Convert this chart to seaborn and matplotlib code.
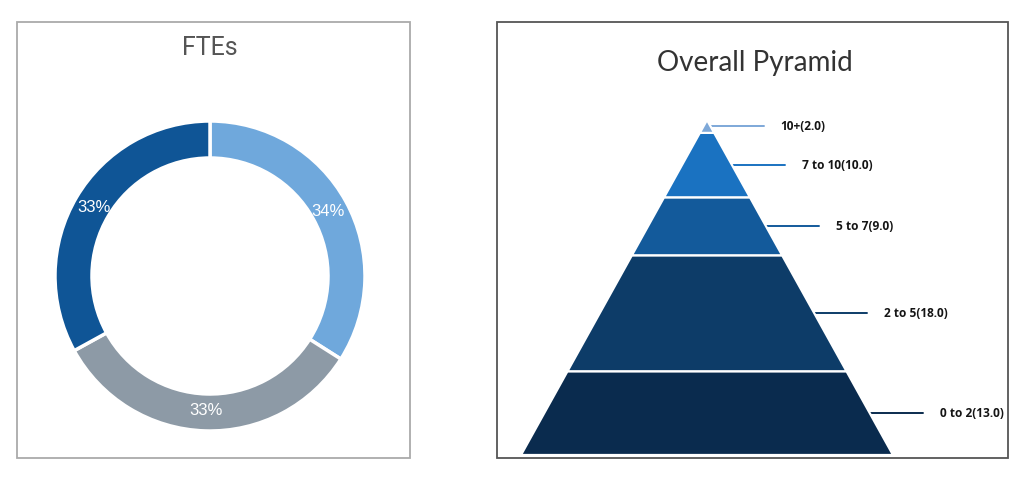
import matplotlib
matplotlib.use("Agg")
import matplotlib.pyplot as plt
from matplotlib.patches import Rectangle
import seaborn as sns

# ---- data ----
fte_labels = ["A", "B", "C"]
fte_values = [34, 33, 33]
fte_colors = ["#6fa8dc", "#8d9aa6", "#0f5596"]

pyr_labels = ["0 to 2", "2 to 5", "5 to 7", "7 to 10", "10+"]
pyr_values = [13.0, 18.0, 9.0, 10.0, 2.0]
pyr_colors = ["#0a2b4e", "#0d3c68", "#135a9b", "#1a72c1", "#7ea8d8"]

sns.set_theme(style="white")
plt.rcParams["font.family"] = ["Roboto", "DejaVu Sans"]

W, H = 1030, 478
fig = plt.figure(figsize=(W / 100, H / 100), dpi=100)
fig.patch.set_facecolor("white")


def px_axes(x0, y0, x1, y1):
    """axes from pixel rect (top-left origin)"""
    return fig.add_axes([x0 / W, 1 - y1 / H, (x1 - x0) / W, (y1 - y0) / H])


# panel borders
fig.patches.append(Rectangle((17 / W, 1 - 458 / H), (410 - 17) / W, (458 - 22) / H,
                             transform=fig.transFigure, fill=False,
                             edgecolor="#aaaaaa", linewidth=1.3, zorder=0))
fig.patches.append(Rectangle((497 / W, 1 - 458 / H), (1008 - 497) / W, (458 - 22) / H,
                             transform=fig.transFigure, fill=False,
                             edgecolor="#555555", linewidth=1.3, zorder=0))

# ---- donut ----
axd = px_axes(17, 22, 410, 458)
cx, cy = 210 - 17, 458 - 276
R = 155
axd.pie(fte_values, colors=fte_colors, startangle=90, counterclock=False,
        radius=R, center=(cx, cy), autopct="%.0f%%", pctdistance=0.87,
        wedgeprops=dict(width=37, edgecolor="white", linewidth=2.5),
        textprops=dict(color="white", fontsize=12, family=["Liberation Sans", "DejaVu Sans"]))
axd.set_xlim(0, 410 - 17)
axd.set_ylim(0, 458 - 22)
axd.set_aspect("equal")
axd.axis("off")
fig.text(210 / W, 1 - 48 / H, "FTEs", ha="center", va="center",
         fontsize=18, color="#555555", family=["Roboto", "DejaVu Sans"])

# ---- pyramid ----
axp = px_axes(521, 120, 893, 455)
total = sum(pyr_values)
axp.set_xlim(-1, 1)
axp.set_ylim(0, total)
axp.axis("off")

line_len = 53 / 186
gap = 17 / 186
bottom = 0.0
for lab, val, col in zip(pyr_labels, pyr_values, pyr_colors):
    top = bottom + val
    hb = 1 - bottom / total
    ht = 1 - top / total
    axp.fill([-hb, hb, ht, -ht], [bottom, bottom, top, top], color=col,
             edgecolor="white", linewidth=1.6, zorder=2)
    mid = bottom + val / 2
    xe = 1 - mid / total
    axp.plot([xe, xe + line_len], [mid, mid], color=col, linewidth=1.4,
             clip_on=False, zorder=1)
    axp.text(xe + line_len + gap, mid, f"{lab}({val:.1f})", ha="left", va="center",
             fontsize=8.6, fontweight="bold", color="#151515",
             family=["Open Sans", "DejaVu Sans"], clip_on=False)
    bottom = top

fig.text(755 / W, 1 - 63 / H, "Overall Pyramid", ha="center", va="center",
         fontsize=20, color="#333333", family=["Lato", "DejaVu Sans"])

fig.savefig("out.png", dpi=100, facecolor="white")
